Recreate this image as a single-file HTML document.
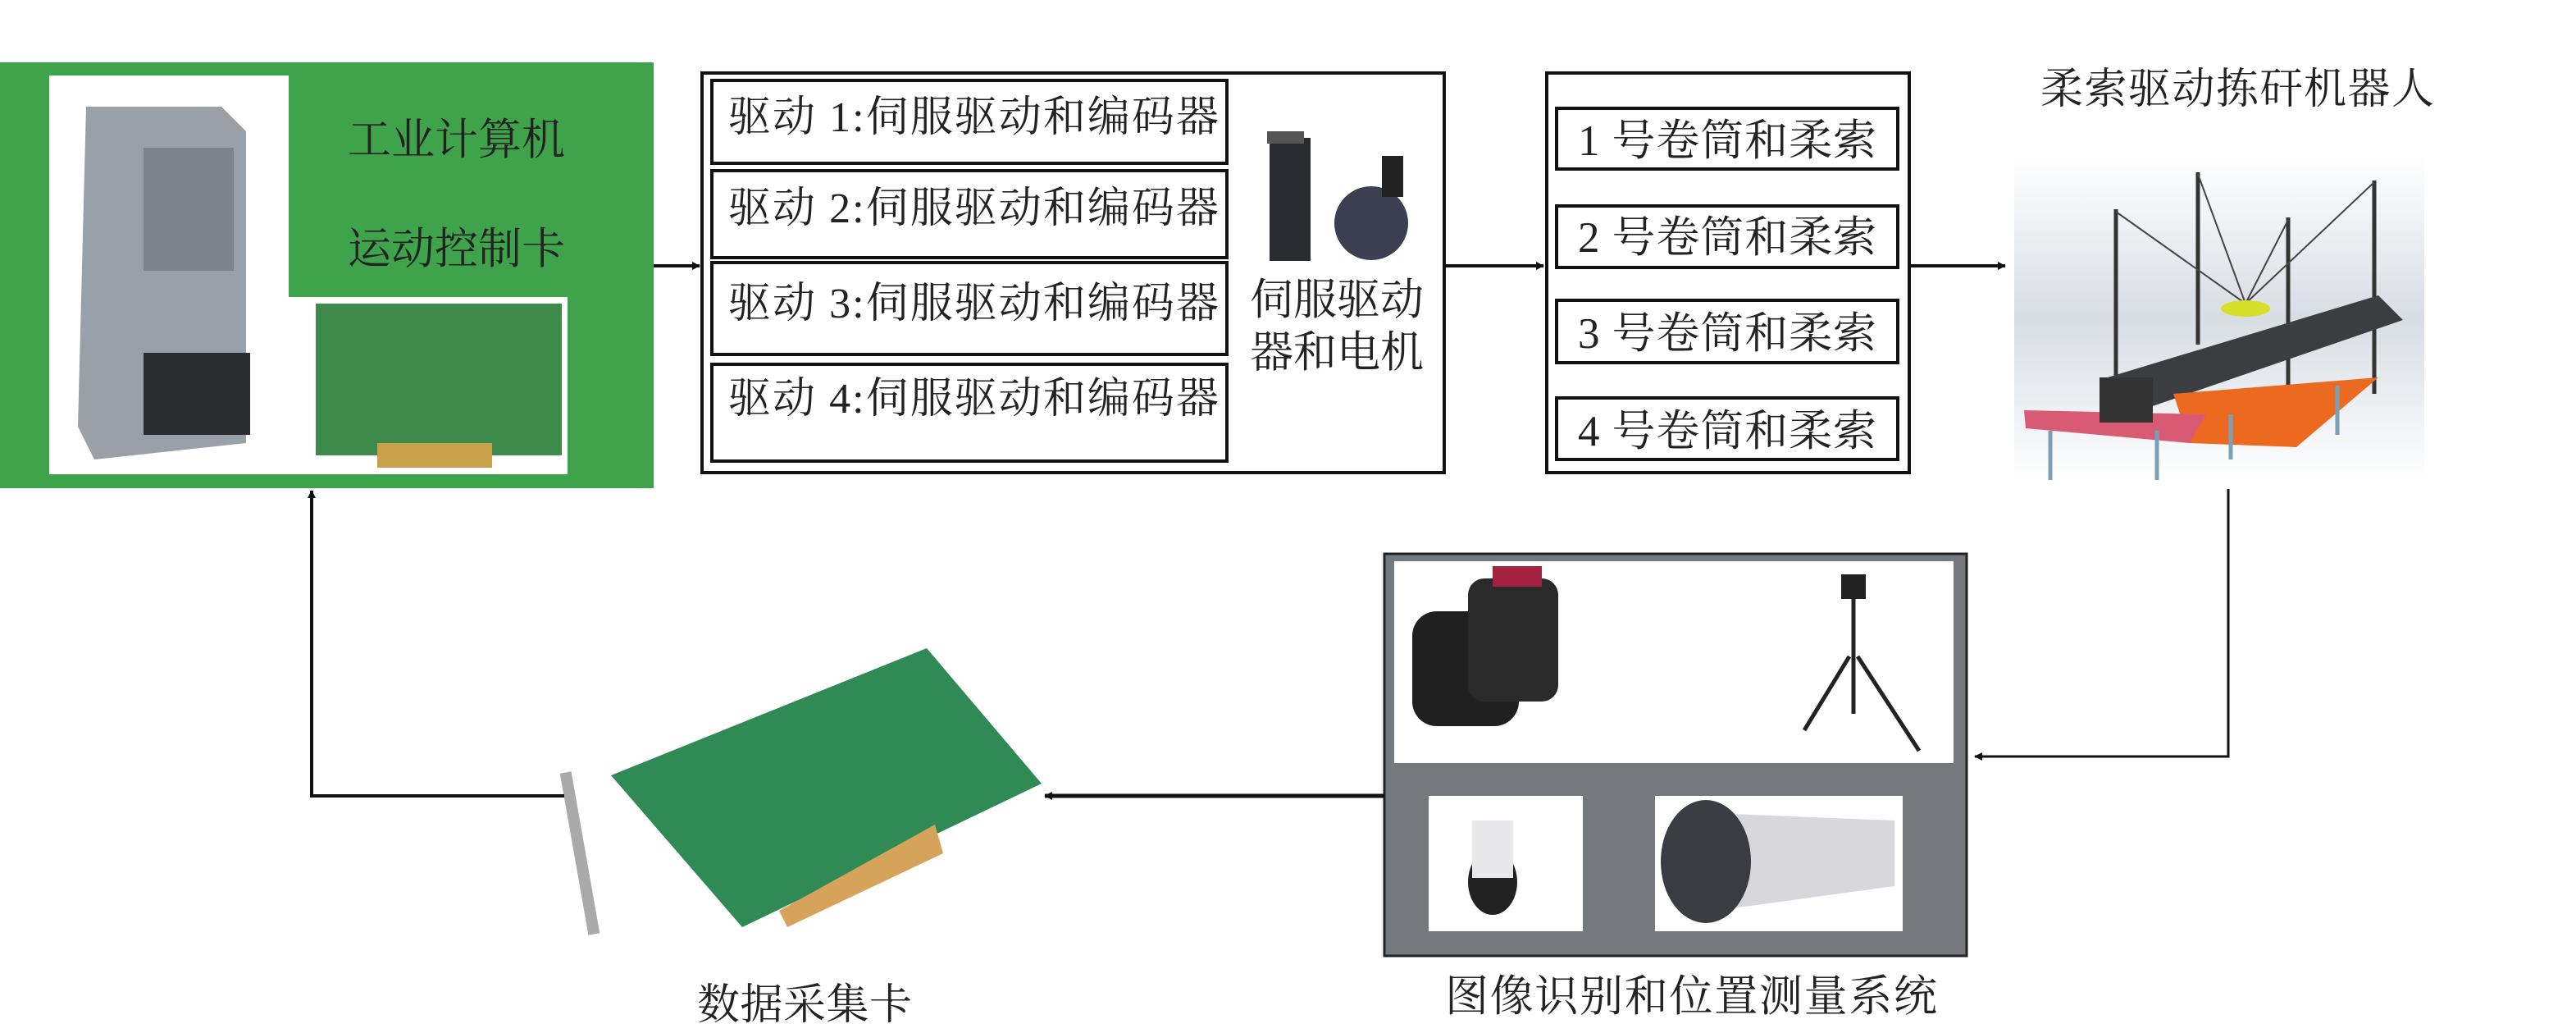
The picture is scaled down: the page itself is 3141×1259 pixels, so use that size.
<!DOCTYPE html>
<html><head><meta charset="utf-8"><style>
html,body{margin:0;padding:0;background:#fff}
svg{display:block}
text{font-family:"Liberation Serif","Noto Serif CJK SC",serif;fill:#222}
</style></head><body>
<svg width="3141" height="1259" viewBox="0 0 3141 1259" xmlns="http://www.w3.org/2000/svg">
<defs>
<marker id="ah" markerWidth="10" markerHeight="10" refX="9" refY="5" orient="auto" markerUnits="userSpaceOnUse"><path d="M0,0 L10,5 L0,10z" fill="#111"/></marker>
<linearGradient id="sky" x1="0" y1="0" x2="0" y2="1"><stop offset="0" stop-color="#fff"/><stop offset="0.5" stop-color="#d8dde4"/><stop offset="1" stop-color="#fff"/></linearGradient>
</defs>
<rect x="0" y="76" width="797" height="519" fill="#3ea34a"/>
<rect x="60" y="92" width="292" height="486" fill="#fff"/>
<polygon points="105,130 270,130 300,160 300,540 115,560 95,520" fill="#9aa0a8"/>
<rect x="175" y="180" width="110" height="150" fill="#6b7078" opacity="0.6"/>
<rect x="175" y="430" width="130" height="100" fill="#2a2c30"/>
<rect x="352" y="362" width="340" height="216" fill="#fff"/>
<rect x="385" y="370" width="300" height="185" fill="#3d8a4a"/>
<rect x="460" y="540" width="140" height="30" fill="#c9a04a"/>
<text x="424" y="188" font-size="53">工业计算机</text>
<text x="424" y="321" font-size="53">运动控制卡</text>
<line x1="797" y1="324" x2="853" y2="324" stroke="#111" stroke-width="4" marker-end="url(#ah)"/>
<rect x="856" y="89" width="905" height="487" fill="none" stroke="#111" stroke-width="4"/>
<g fill="none" stroke="#111" stroke-width="4">
<rect x="868" y="98" width="628" height="101"/>
<rect x="868" y="208" width="628" height="106"/>
<rect x="868" y="320" width="628" height="112"/>
<rect x="868" y="444" width="628" height="118"/>
</g>
<g font-size="52">
<text x="888" y="160" textLength="598">驱动 1:伺服驱动和编码器</text>
<text x="888" y="271" textLength="598">驱动 2:伺服驱动和编码器</text>
<text x="888" y="387" textLength="598">驱动 3:伺服驱动和编码器</text>
<text x="888" y="503" textLength="598">驱动 4:伺服驱动和编码器</text>
</g>
<rect x="1548" y="168" width="50" height="150" fill="#2a2b30"/>
<rect x="1545" y="160" width="45" height="15" fill="#555"/>
<circle cx="1672" cy="272" r="45" fill="#3a4050"/>
<rect x="1685" y="190" width="26" height="50" fill="#222"/>
<text x="1524" y="383" font-size="53">伺服驱动</text>
<text x="1524" y="447" font-size="53">器和电机</text>
<line x1="1761" y1="324" x2="1882" y2="324" stroke="#111" stroke-width="4" marker-end="url(#ah)"/>
<rect x="1886" y="89" width="442" height="487" fill="none" stroke="#111" stroke-width="4"/>
<g fill="none" stroke="#111" stroke-width="4">
<rect x="1898" y="132" width="416" height="74"/>
<rect x="1898" y="251" width="416" height="75"/>
<rect x="1898" y="366" width="416" height="76"/>
<rect x="1898" y="485" width="416" height="75"/>
</g>
<g font-size="53">
<text x="1924" y="189" textLength="364">1 号卷筒和柔索</text>
<text x="1924" y="307" textLength="364">2 号卷筒和柔索</text>
<text x="1924" y="424" textLength="364">3 号卷筒和柔索</text>
<text x="1924" y="543" textLength="364">4 号卷筒和柔索</text>
</g>
<line x1="2328" y1="324" x2="2445" y2="324" stroke="#111" stroke-width="4" marker-end="url(#ah)"/>
<text x="2488" y="126" font-size="52" textLength="480">柔索驱动拣矸机器人</text>
<rect x="2456" y="190" width="500" height="396" fill="url(#sky)"/>
<g stroke="#333" stroke-width="5">
<line x1="2580" y1="255" x2="2580" y2="470"/><line x1="2680" y1="210" x2="2680" y2="420"/>
<line x1="2790" y1="265" x2="2790" y2="530"/><line x1="2895" y1="220" x2="2895" y2="480"/>
</g>
<g stroke="#444" stroke-width="2"><line x1="2580" y1="258" x2="2738" y2="370"/><line x1="2680" y1="212" x2="2738" y2="370"/><line x1="2790" y1="268" x2="2738" y2="370"/><line x1="2895" y1="222" x2="2738" y2="370"/></g>
<polygon points="2570,460 2900,360 2930,390 2610,500" fill="#3c3d40"/>
<ellipse cx="2738" cy="376" rx="30" ry="10" fill="#d6e02a"/>
<polygon points="2650,480 2900,460 2800,545 2670,540" fill="#ec6a1f"/>
<polygon points="2468,500 2690,505 2670,540 2470,522" fill="#d95b73"/>
<g stroke="#7a9fb8" stroke-width="5"><line x1="2500" y1="525" x2="2500" y2="585"/><line x1="2630" y1="525" x2="2630" y2="585"/><line x1="2720" y1="505" x2="2720" y2="560"/><line x1="2850" y1="470" x2="2850" y2="530"/></g>
<rect x="2560" y="460" width="65" height="55" fill="#333"/>
<polyline points="2717,596 2717,922 2408,922" fill="none" stroke="#111" stroke-width="3" marker-end="url(#ah)"/>
<rect x="1688" y="675" width="710" height="490" fill="#75787d" stroke="#222" stroke-width="3"/>
<rect x="1700" y="684" width="682" height="246" fill="#fff"/>
<rect x="1742" y="970" width="188" height="165" fill="#fff"/>
<rect x="2018" y="970" width="302" height="165" fill="#fff"/>
<rect x="1722" y="745" width="130" height="140" rx="30" fill="#202020"/>
<rect x="1790" y="705" width="110" height="150" rx="20" fill="#2a2a2a"/>
<rect x="1820" y="690" width="60" height="25" fill="#a3223f"/>
<rect x="2245" y="700" width="30" height="30" fill="#222"/>
<g stroke="#222" stroke-width="5"><line x1="2260" y1="730" x2="2260" y2="870"/><line x1="2255" y1="800" x2="2200" y2="890"/><line x1="2265" y1="800" x2="2340" y2="915"/></g>
<ellipse cx="1820" cy="1075" rx="30" ry="40" fill="#222"/>
<rect x="1795" y="1000" width="50" height="70" fill="#e8e8ea"/>
<polygon points="2050,1080 2060,990 2310,1000 2310,1080 2090,1110" fill="#d8d8dc"/>
<ellipse cx="2080" cy="1050" rx="55" ry="75" fill="#3a3c42"/>
<line x1="1688" y1="970" x2="1274" y2="970" stroke="#111" stroke-width="5" marker-end="url(#ah)"/>
<polygon points="745,945 1130,790 1270,955 905,1130" fill="#2f8a55"/>
<polygon points="950,1110 1140,1005 1150,1040 960,1130" fill="#d6a35a"/>
<rect x="700" y="940" width="14" height="200" fill="#aaa" transform="rotate(-10 707 1040)"/>
<polyline points="688,970 380,970 380,598" fill="none" stroke="#111" stroke-width="4" marker-end="url(#ah)"/>
<text x="850" y="1242" font-size="52" textLength="262">数据采集卡</text>
<text x="1762" y="1232" font-size="53" textLength="600">图像识别和位置测量系统</text>
</svg>
</body></html>
